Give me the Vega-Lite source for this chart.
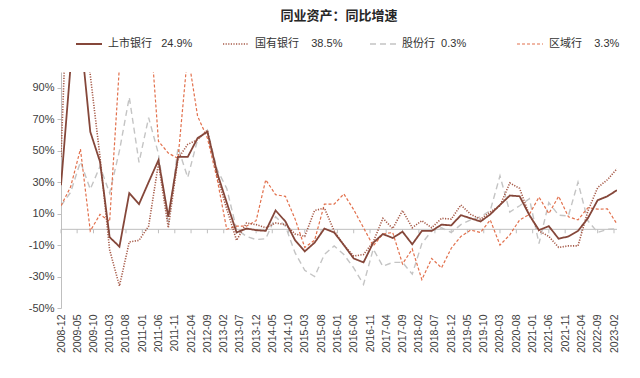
{
"$schema": "https://vega.github.io/schema/vega-lite/v6.json",
"width": 556, "height": 236,
"autosize": {"type": "none"},
"padding": {"left": 61, "top": 72, "right": 23, "bottom": 70},
"background": "white",
"title": {"text": "同业资产：同比增速", "font": "Noto Sans CJK SC", "fontSize": 13, "fontWeight": "bold", "color": "#262626", "anchor": "middle", "offset": 7},
"config": {"view": {"stroke": null}, "axisY": {"labelOverlap": false}, "axisX": {"labelOverlap": false}},
"layer": [
{"data": {"values": [{"z": 0}]},
 "mark": {"type": "rule", "color": "#BFBFBF", "strokeWidth": 1},
 "encoding": {"y": {"field": "z", "type": "quantitative", "scale": {"domain": [-50, 100], "nice": false, "zero": false},
   "axis": {"title": null, "values": [-50, -30, -10, 10, 30, 50, 70, 90], "labelExpr": "datum.value + '%'", "labelOverlap": false, "labelFlush": false, "grid": false, "domainColor": "#BFBFBF", "tickColor": "#BFBFBF", "tickSize": 4, "labelFont": "Liberation Sans", "labelFontSize": 11, "labelColor": "#404040", "labelPadding": 3}}}},
{"data": {"values": [{"t":"2008-12"},{"t":"2009-05"},{"t":"2009-10"},{"t":"2010-03"},{"t":"2010-08"},{"t":"2011-01"},{"t":"2011-06"},{"t":"2011-11"},{"t":"2012-04"},{"t":"2012-09"},{"t":"2013-02"},{"t":"2013-07"},{"t":"2013-12"},{"t":"2014-05"},{"t":"2014-10"},{"t":"2015-03"},{"t":"2015-08"},{"t":"2016-01"},{"t":"2016-06"},{"t":"2016-11"},{"t":"2017-04"},{"t":"2017-09"},{"t":"2018-02"},{"t":"2018-07"},{"t":"2018-12"},{"t":"2019-05"},{"t":"2019-10"},{"t":"2020-03"},{"t":"2020-08"},{"t":"2021-01"},{"t":"2021-06"},{"t":"2021-11"},{"t":"2022-04"},{"t":"2022-09"},{"t":"2023-02"}]},
 "mark": {"type": "rule", "color": "#BFBFBF", "strokeWidth": 1},
 "encoding": {
  "x": {"field": "t", "type": "temporal", "scale": {"type": "utc", "nice": false, "domain": [{"year":2008,"month":12,"date":1,"utc":true},{"year":2023,"month":3,"date":1,"utc":true}]},
   "axis": {"orient": "bottom", "title": null, "format": "%Y-%m", "labelAngle": -90, "labelFont": "Liberation Sans", "labelFontSize": 10.5, "labelColor": "#404040", "ticks": false, "domain": false, "grid": false, "labelPadding": 6, "labelOverlap": false, "labelFlush": false, "labelBound": false,
   "values": [{"year":2008,"month":12,"date":1,"utc":true},{"year":2009,"month":5,"date":1,"utc":true},{"year":2009,"month":10,"date":1,"utc":true},{"year":2010,"month":3,"date":1,"utc":true},{"year":2010,"month":8,"date":1,"utc":true},{"year":2011,"month":1,"date":1,"utc":true},{"year":2011,"month":6,"date":1,"utc":true},{"year":2011,"month":11,"date":1,"utc":true},{"year":2012,"month":4,"date":1,"utc":true},{"year":2012,"month":9,"date":1,"utc":true},{"year":2013,"month":2,"date":1,"utc":true},{"year":2013,"month":7,"date":1,"utc":true},{"year":2013,"month":12,"date":1,"utc":true},{"year":2014,"month":5,"date":1,"utc":true},{"year":2014,"month":10,"date":1,"utc":true},{"year":2015,"month":3,"date":1,"utc":true},{"year":2015,"month":8,"date":1,"utc":true},{"year":2016,"month":1,"date":1,"utc":true},{"year":2016,"month":6,"date":1,"utc":true},{"year":2016,"month":11,"date":1,"utc":true},{"year":2017,"month":4,"date":1,"utc":true},{"year":2017,"month":9,"date":1,"utc":true},{"year":2018,"month":2,"date":1,"utc":true},{"year":2018,"month":7,"date":1,"utc":true},{"year":2018,"month":12,"date":1,"utc":true},{"year":2019,"month":5,"date":1,"utc":true},{"year":2019,"month":10,"date":1,"utc":true},{"year":2020,"month":3,"date":1,"utc":true},{"year":2020,"month":8,"date":1,"utc":true},{"year":2021,"month":1,"date":1,"utc":true},{"year":2021,"month":6,"date":1,"utc":true},{"year":2021,"month":11,"date":1,"utc":true},{"year":2022,"month":4,"date":1,"utc":true},{"year":2022,"month":9,"date":1,"utc":true},{"year":2023,"month":2,"date":1,"utc":true}]}},
  "y": {"datum": 0, "type": "quantitative", "scale": {"domain": [-50, 100], "nice": false, "zero": false},
   "axis": {"title": null, "values": [-50, -30, -10, 10, 30, 50, 70, 90], "labelExpr": "datum.value + '%'", "labelOverlap": false, "labelFlush": false, "grid": false, "domainColor": "#BFBFBF", "tickColor": "#BFBFBF", "tickSize": 4, "labelFont": "Liberation Sans", "labelFontSize": 11, "labelColor": "#404040", "labelPadding": 3}},
  "y2": {"datum": -2.5}}},
{"data": {"values": [
{"d":"2008-12","s":"股份行","v":15},{"d":"2009-03","s":"股份行","v":23.5},{"d":"2009-06","s":"股份行","v":43},{"d":"2009-09","s":"股份行","v":25.5},{"d":"2009-12","s":"股份行","v":40},{"d":"2010-03","s":"股份行","v":23},{"d":"2010-06","s":"股份行","v":50},{"d":"2010-09","s":"股份行","v":84},{"d":"2010-12","s":"股份行","v":42.5},{"d":"2011-03","s":"股份行","v":71},{"d":"2011-06","s":"股份行","v":48},{"d":"2011-09","s":"股份行","v":3},{"d":"2011-12","s":"股份行","v":52},{"d":"2012-03","s":"股份行","v":33},{"d":"2012-06","s":"股份行","v":57},{"d":"2012-09","s":"股份行","v":63},{"d":"2012-12","s":"股份行","v":38},{"d":"2013-03","s":"股份行","v":26},{"d":"2013-06","s":"股份行","v":0},{"d":"2013-09","s":"股份行","v":-4.5},{"d":"2013-12","s":"股份行","v":-6.5},{"d":"2014-03","s":"股份行","v":-6},{"d":"2014-06","s":"股份行","v":8},{"d":"2014-09","s":"股份行","v":2},{"d":"2014-12","s":"股份行","v":-15},{"d":"2015-03","s":"股份行","v":-26},{"d":"2015-06","s":"股份行","v":-30},{"d":"2015-09","s":"股份行","v":-16},{"d":"2015-12","s":"股份行","v":-10.5},{"d":"2016-03","s":"股份行","v":-16},{"d":"2016-06","s":"股份行","v":-24.5},{"d":"2016-09","s":"股份行","v":-35},{"d":"2016-12","s":"股份行","v":-12.5},{"d":"2017-03","s":"股份行","v":-23.5},{"d":"2017-06","s":"股份行","v":-21},{"d":"2017-09","s":"股份行","v":-21},{"d":"2017-12","s":"股份行","v":-28.5},{"d":"2018-03","s":"股份行","v":-9},{"d":"2018-06","s":"股份行","v":-1},{"d":"2018-09","s":"股份行","v":1},{"d":"2018-12","s":"股份行","v":-2},{"d":"2019-03","s":"股份行","v":3},{"d":"2019-06","s":"股份行","v":6},{"d":"2019-09","s":"股份行","v":8},{"d":"2019-12","s":"股份行","v":12},{"d":"2020-03","s":"股份行","v":34},{"d":"2020-06","s":"股份行","v":11},{"d":"2020-09","s":"股份行","v":15},{"d":"2020-12","s":"股份行","v":19.5},{"d":"2021-03","s":"股份行","v":-9},{"d":"2021-06","s":"股份行","v":17},{"d":"2021-09","s":"股份行","v":9},{"d":"2021-12","s":"股份行","v":8.5},{"d":"2022-03","s":"股份行","v":30},{"d":"2022-06","s":"股份行","v":5.5},{"d":"2022-09","s":"股份行","v":-2},{"d":"2022-12","s":"股份行","v":0},{"d":"2023-03","s":"股份行","v":0.3},
{"d":"2008-12","s":"区域行","v":15},{"d":"2009-03","s":"区域行","v":27},{"d":"2009-06","s":"区域行","v":51},{"d":"2009-09","s":"区域行","v":-1},{"d":"2009-12","s":"区域行","v":9.5},{"d":"2010-03","s":"区域行","v":5},{"d":"2010-06","s":"区域行","v":104},{"d":"2010-09","s":"区域行","v":150},{"d":"2010-12","s":"区域行","v":160},{"d":"2011-03","s":"区域行","v":142},{"d":"2011-06","s":"区域行","v":56},{"d":"2011-09","s":"区域行","v":48.5},{"d":"2011-12","s":"区域行","v":45},{"d":"2012-03","s":"区域行","v":112},{"d":"2012-06","s":"区域行","v":72},{"d":"2012-09","s":"区域行","v":58},{"d":"2012-12","s":"区域行","v":32},{"d":"2013-03","s":"区域行","v":0},{"d":"2013-06","s":"区域行","v":2},{"d":"2013-09","s":"区域行","v":2},{"d":"2013-12","s":"区域行","v":5.5},{"d":"2014-03","s":"区域行","v":31.5},{"d":"2014-06","s":"区域行","v":22},{"d":"2014-09","s":"区域行","v":21},{"d":"2014-12","s":"区域行","v":6.5},{"d":"2015-03","s":"区域行","v":-11.5},{"d":"2015-06","s":"区域行","v":-7},{"d":"2015-09","s":"区域行","v":16},{"d":"2015-12","s":"区域行","v":16},{"d":"2016-03","s":"区域行","v":22.5},{"d":"2016-06","s":"区域行","v":12.5},{"d":"2016-09","s":"区域行","v":1},{"d":"2016-12","s":"区域行","v":-10.5},{"d":"2017-03","s":"区域行","v":-3},{"d":"2017-06","s":"区域行","v":-2},{"d":"2017-09","s":"区域行","v":-22},{"d":"2017-12","s":"区域行","v":-12.5},{"d":"2018-03","s":"区域行","v":-32},{"d":"2018-06","s":"区域行","v":-18.5},{"d":"2018-09","s":"区域行","v":-24.5},{"d":"2018-12","s":"区域行","v":-12},{"d":"2019-03","s":"区域行","v":-4.5},{"d":"2019-06","s":"区域行","v":-0.5},{"d":"2019-09","s":"区域行","v":-2},{"d":"2019-12","s":"区域行","v":6},{"d":"2020-03","s":"区域行","v":-10},{"d":"2020-06","s":"区域行","v":-3.5},{"d":"2020-09","s":"区域行","v":6},{"d":"2020-12","s":"区域行","v":9.5},{"d":"2021-03","s":"区域行","v":20.5},{"d":"2021-06","s":"区域行","v":10},{"d":"2021-09","s":"区域行","v":21},{"d":"2021-12","s":"区域行","v":8},{"d":"2022-03","s":"区域行","v":6},{"d":"2022-06","s":"区域行","v":13.7},{"d":"2022-09","s":"区域行","v":12.8},{"d":"2022-12","s":"区域行","v":13},{"d":"2023-03","s":"区域行","v":3.3},
{"d":"2008-12","s":"国有银行","v":46},{"d":"2009-03","s":"国有银行","v":210},{"d":"2009-06","s":"国有银行","v":150},{"d":"2009-09","s":"国有银行","v":98},{"d":"2009-12","s":"国有银行","v":46},{"d":"2010-03","s":"国有银行","v":-13},{"d":"2010-06","s":"国有银行","v":-36},{"d":"2010-09","s":"国有银行","v":-8},{"d":"2010-12","s":"国有银行","v":-7},{"d":"2011-03","s":"国有银行","v":2},{"d":"2011-06","s":"国有银行","v":42},{"d":"2011-09","s":"国有银行","v":1},{"d":"2011-12","s":"国有银行","v":45},{"d":"2012-03","s":"国有银行","v":54},{"d":"2012-06","s":"国有银行","v":57},{"d":"2012-09","s":"国有银行","v":63},{"d":"2012-12","s":"国有银行","v":34},{"d":"2013-03","s":"国有银行","v":13},{"d":"2013-06","s":"国有银行","v":-7},{"d":"2013-09","s":"国有银行","v":4},{"d":"2013-12","s":"国有银行","v":3},{"d":"2014-03","s":"国有银行","v":1},{"d":"2014-06","s":"国有银行","v":4},{"d":"2014-09","s":"国有银行","v":3},{"d":"2014-12","s":"国有银行","v":-3},{"d":"2015-03","s":"国有银行","v":-4.5},{"d":"2015-06","s":"国有银行","v":12},{"d":"2015-09","s":"国有银行","v":13.5},{"d":"2015-12","s":"国有银行","v":-1},{"d":"2016-03","s":"国有银行","v":-10},{"d":"2016-06","s":"国有银行","v":-17},{"d":"2016-09","s":"国有银行","v":-16},{"d":"2016-12","s":"国有银行","v":-8},{"d":"2017-03","s":"国有银行","v":7},{"d":"2017-06","s":"国有银行","v":0.5},{"d":"2017-09","s":"国有银行","v":12},{"d":"2017-12","s":"国有银行","v":1},{"d":"2018-03","s":"国有银行","v":5.5},{"d":"2018-06","s":"国有银行","v":1},{"d":"2018-09","s":"国有银行","v":7},{"d":"2018-12","s":"国有银行","v":6.5},{"d":"2019-03","s":"国有银行","v":15.5},{"d":"2019-06","s":"国有银行","v":9.5},{"d":"2019-09","s":"国有银行","v":6.5},{"d":"2019-12","s":"国有银行","v":11},{"d":"2020-03","s":"国有银行","v":15},{"d":"2020-06","s":"国有银行","v":29.5},{"d":"2020-09","s":"国有银行","v":26},{"d":"2020-12","s":"国有银行","v":9},{"d":"2021-03","s":"国有银行","v":-1},{"d":"2021-06","s":"国有银行","v":-4.5},{"d":"2021-09","s":"国有银行","v":-11.5},{"d":"2021-12","s":"国有银行","v":-10.5},{"d":"2022-03","s":"国有银行","v":-10.5},{"d":"2022-06","s":"国有银行","v":11.5},{"d":"2022-09","s":"国有银行","v":26.5},{"d":"2022-12","s":"国有银行","v":31.5},{"d":"2023-03","s":"国有银行","v":38.5},
{"d":"2008-12","s":"上市银行","v":28},{"d":"2009-03","s":"上市银行","v":104},{"d":"2009-06","s":"上市银行","v":125},{"d":"2009-09","s":"上市银行","v":62},{"d":"2009-12","s":"上市银行","v":43},{"d":"2010-03","s":"上市银行","v":-5},{"d":"2010-06","s":"上市银行","v":-11},{"d":"2010-09","s":"上市银行","v":23},{"d":"2010-12","s":"上市银行","v":16},{"d":"2011-03","s":"上市银行","v":30},{"d":"2011-06","s":"上市银行","v":44},{"d":"2011-09","s":"上市银行","v":8},{"d":"2011-12","s":"上市银行","v":46},{"d":"2012-03","s":"上市银行","v":46},{"d":"2012-06","s":"上市银行","v":58},{"d":"2012-09","s":"上市银行","v":62},{"d":"2012-12","s":"上市银行","v":36},{"d":"2013-03","s":"上市银行","v":17},{"d":"2013-06","s":"上市银行","v":-2},{"d":"2013-09","s":"上市银行","v":0.5},{"d":"2013-12","s":"上市银行","v":-0.5},{"d":"2014-03","s":"上市银行","v":-1},{"d":"2014-06","s":"上市银行","v":12},{"d":"2014-09","s":"上市银行","v":5},{"d":"2014-12","s":"上市银行","v":-7},{"d":"2015-03","s":"上市银行","v":-14},{"d":"2015-06","s":"上市银行","v":-8.5},{"d":"2015-09","s":"上市银行","v":0.5},{"d":"2015-12","s":"上市银行","v":-2},{"d":"2016-03","s":"上市银行","v":-10},{"d":"2016-06","s":"上市银行","v":-18.5},{"d":"2016-09","s":"上市银行","v":-21},{"d":"2016-12","s":"上市银行","v":-8.5},{"d":"2017-03","s":"上市银行","v":-3},{"d":"2017-06","s":"上市银行","v":-5.5},{"d":"2017-09","s":"上市银行","v":-1.5},{"d":"2017-12","s":"上市银行","v":-9.5},{"d":"2018-03","s":"上市银行","v":-1},{"d":"2018-06","s":"上市银行","v":-1},{"d":"2018-09","s":"上市银行","v":3},{"d":"2018-12","s":"上市银行","v":2.5},{"d":"2019-03","s":"上市银行","v":9},{"d":"2019-06","s":"上市银行","v":7},{"d":"2019-09","s":"上市银行","v":5},{"d":"2019-12","s":"上市银行","v":9.5},{"d":"2020-03","s":"上市银行","v":15.5},{"d":"2020-06","s":"上市银行","v":21.5},{"d":"2020-09","s":"上市银行","v":21},{"d":"2020-12","s":"上市银行","v":9},{"d":"2021-03","s":"上市银行","v":-0.5},{"d":"2021-06","s":"上市银行","v":2},{"d":"2021-09","s":"上市银行","v":-6},{"d":"2021-12","s":"上市银行","v":-4.5},{"d":"2022-03","s":"上市银行","v":-1},{"d":"2022-06","s":"上市银行","v":7},{"d":"2022-09","s":"上市银行","v":18.5},{"d":"2022-12","s":"上市银行","v":21},{"d":"2023-03","s":"上市银行","v":24.9}
]},
 "mark": {"type": "line", "clip": true},
 "encoding": {
  "x": {"field": "d", "type": "temporal", "scale": {"type": "utc", "nice": false, "domain": [{"year":2008,"month":12,"date":1,"utc":true},{"year":2023,"month":3,"date":1,"utc":true}]},
   "axis": {"orient": "bottom", "title": null, "format": "%Y-%m", "labelAngle": -90, "labelFont": "Liberation Sans", "labelFontSize": 10.5, "labelColor": "#404040", "ticks": false, "domain": false, "grid": false, "labelPadding": 6, "labelOverlap": false, "labelFlush": false, "labelBound": false,
   "values": [{"year":2008,"month":12,"date":1,"utc":true},{"year":2009,"month":5,"date":1,"utc":true},{"year":2009,"month":10,"date":1,"utc":true},{"year":2010,"month":3,"date":1,"utc":true},{"year":2010,"month":8,"date":1,"utc":true},{"year":2011,"month":1,"date":1,"utc":true},{"year":2011,"month":6,"date":1,"utc":true},{"year":2011,"month":11,"date":1,"utc":true},{"year":2012,"month":4,"date":1,"utc":true},{"year":2012,"month":9,"date":1,"utc":true},{"year":2013,"month":2,"date":1,"utc":true},{"year":2013,"month":7,"date":1,"utc":true},{"year":2013,"month":12,"date":1,"utc":true},{"year":2014,"month":5,"date":1,"utc":true},{"year":2014,"month":10,"date":1,"utc":true},{"year":2015,"month":3,"date":1,"utc":true},{"year":2015,"month":8,"date":1,"utc":true},{"year":2016,"month":1,"date":1,"utc":true},{"year":2016,"month":6,"date":1,"utc":true},{"year":2016,"month":11,"date":1,"utc":true},{"year":2017,"month":4,"date":1,"utc":true},{"year":2017,"month":9,"date":1,"utc":true},{"year":2018,"month":2,"date":1,"utc":true},{"year":2018,"month":7,"date":1,"utc":true},{"year":2018,"month":12,"date":1,"utc":true},{"year":2019,"month":5,"date":1,"utc":true},{"year":2019,"month":10,"date":1,"utc":true},{"year":2020,"month":3,"date":1,"utc":true},{"year":2020,"month":8,"date":1,"utc":true},{"year":2021,"month":1,"date":1,"utc":true},{"year":2021,"month":6,"date":1,"utc":true},{"year":2021,"month":11,"date":1,"utc":true},{"year":2022,"month":4,"date":1,"utc":true},{"year":2022,"month":9,"date":1,"utc":true},{"year":2023,"month":2,"date":1,"utc":true}]}},
  "y": {"field": "v", "type": "quantitative", "scale": {"domain": [-50, 100], "nice": false, "zero": false},
   "axis": {"title": null, "values": [-50, -30, -10, 10, 30, 50, 70, 90], "labelExpr": "datum.value + '%'", "labelOverlap": false, "labelFlush": false, "grid": false, "domainColor": "#BFBFBF", "tickColor": "#BFBFBF", "tickSize": 4, "labelFont": "Liberation Sans", "labelFontSize": 11, "labelColor": "#404040", "labelPadding": 3}},
  "color": {"field": "s", "type": "nominal", "scale": {"domain": ["上市银行", "国有银行", "股份行", "区域行"], "range": ["#85473A", "#A65A48", "#C4C4C4", "#E2704C"]},
   "legend": {"title": null, "orient": "none", "legendX": 14, "legendY": -42, "direction": "horizontal", "columns": 4, "gridAlign": "all", "columnPadding": 23, "padding": 0, "symbolType": "stroke", "symbolSize": 676, "symbolStrokeWidth": 1.6, "labelFont": "Liberation Sans, Noto Sans CJK SC", "labelFontSize": 11, "labelColor": "#333333", "labelOffset": 5,
    "labelExpr": "datum.label == '上市银行' ? '上市银行\u00a0\u00a0\u00a024.9%' : datum.label == '国有银行' ? '国有银行\u00a0\u00a0\u00a0\u00a038.5%' : datum.label == '股份行' ? '股份行\u00a0\u00a00.3%' : '区域行\u00a0\u00a0\u00a0\u00a03.3%'"}},
  "strokeDash": {"field": "s", "type": "nominal", "scale": {"domain": ["上市银行", "国有银行", "股份行", "区域行"], "range": [[1, 0], [1.2, 1.4], [6, 4], [3, 2]]},
   "legend": {"title": null, "orient": "none", "legendX": 14, "legendY": -42, "direction": "horizontal", "columns": 4, "gridAlign": "all", "columnPadding": 23, "padding": 0, "symbolType": "stroke", "symbolSize": 676, "symbolStrokeWidth": 1.6, "labelFont": "Liberation Sans, Noto Sans CJK SC", "labelFontSize": 11, "labelColor": "#333333", "labelOffset": 5,
    "labelExpr": "datum.label == '上市银行' ? '上市银行\u00a0\u00a0\u00a024.9%' : datum.label == '国有银行' ? '国有银行\u00a0\u00a0\u00a0\u00a038.5%' : datum.label == '股份行' ? '股份行\u00a0\u00a00.3%' : '区域行\u00a0\u00a0\u00a0\u00a03.3%'"}},
  "strokeWidth": {"field": "s", "type": "nominal", "scale": {"domain": ["上市银行", "国有银行", "股份行", "区域行"], "range": [1.8, 1.2, 1.6, 1.5]}, "legend": null}
 }}
]
}
